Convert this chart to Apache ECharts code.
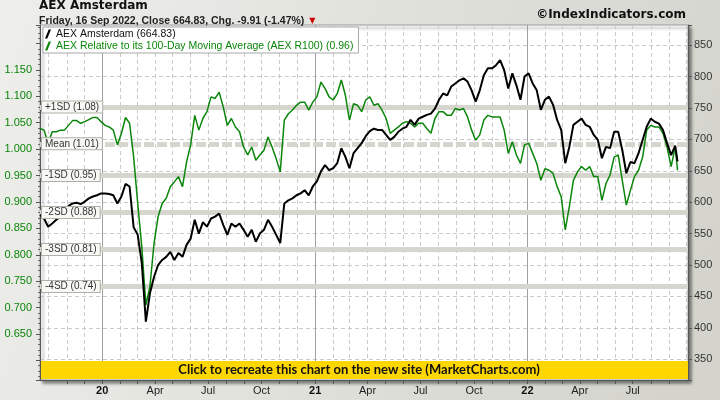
<!DOCTYPE html>
<html><head><meta charset="utf-8">
<script src="https://cdn.jsdelivr.net/npm/echarts@6/dist/echarts.min.js"></script>
<style>html,body{margin:0;padding:0;background:#fff}#c{width:720px;height:400px}</style>
</head><body><div id="c"></div>
<script>
// ---- data (weekly samples, last value = 16 Sep 2022 close) ----
const aexClose = [
580,574,561,566,572,577,582,594,598,599,
597,601,606,609,611,614,614,613,611,598,
609,629,625,560,548,503,410,455,481,500,
508,513,521,508,519,513,532,542,572,550,
568,561,574,577,582,564,548,566,561,566,
556,545,556,537,550,556,572,561,548,535,
598,603,606,611,614,619,611,625,633,649,
659,651,654,662,686,672,654,678,686,694,
705,713,717,715,715,707,699,704,712,717,
720,731,723,733,736,739,741,749,763,773,
770,784,789,794,797,792,778,760,778,802,
813,813,818,826,810,781,805,786,763,800,
805,789,778,747,763,768,755,731,715,662,
688,723,728,733,723,720,707,699,670,688,
686,712,712,683,646,664,662,678,699,720,
733,728,725,715,694,675,690,
664.83];
const aexR100 = [
1.039,1.036,1.011,1.033,1.033,1.036,1.036,1.045,1.054,1.054,
1.049,1.052,1.056,1.060,1.060,1.052,1.045,1.042,1.036,1.008,
1.030,1.060,1.049,0.985,0.897,0.815,0.705,0.740,0.821,0.872,
0.897,0.907,0.929,0.938,0.948,0.929,0.976,1.008,1.064,1.036,
1.058,1.071,1.099,1.096,1.108,1.080,1.045,1.058,1.042,1.033,
1.004,0.989,1.004,0.979,0.989,0.998,1.023,1.004,0.982,0.957,
1.055,1.067,1.074,1.083,1.089,1.089,1.074,1.089,1.099,1.127,
1.115,1.099,1.093,1.105,1.131,1.102,1.055,1.086,1.083,1.071,
1.093,1.099,1.083,1.086,1.074,1.058,1.030,1.036,1.042,1.049,
1.052,1.049,1.042,1.049,1.049,1.039,1.030,1.058,1.071,1.071,
1.064,1.064,1.077,1.074,1.077,1.061,1.036,1.017,1.027,1.055,
1.064,1.061,1.061,1.061,1.036,0.992,1.014,0.989,0.973,1.008,
1.011,0.992,0.973,0.941,0.963,0.960,0.954,0.929,0.910,0.847,
0.891,0.941,0.957,0.967,0.960,0.967,0.948,0.948,0.903,0.935,
0.951,0.985,0.989,0.941,0.894,0.922,0.948,0.960,0.985,1.036,
1.045,1.042,1.042,1.030,1.004,0.967,1.004,
0.96];
const bandValues = [1.083, 1.0145, 0.946, 0.877, 0.809, 0.740];
const bandLabels = ['+1SD (1.08)', 'Mean (1.01)', '-1SD (0.95)', '-2SD (0.88)', '-3SD (0.81)', '-4SD (0.74)'];
const yearStarts = [[2020, 0, 1], [2021, 0, 1], [2022, 0, 1]];
const monthNames = ['Jan','Feb','Mar','Apr','May','Jun','Jul','Aug','Sep','Oct','Nov','Dec'];
const closeName = 'AEX Amsterdam (664.83)';
const r100Name = 'AEX Relative to its 100-Day Moving Average (AEX R100) (0.96)';

// weekly dates from 16 Sep 2019, last point 16 Sep 2022
const dates = [];
for (let k = 0; k < aexClose.length - 1; k++) dates.push(new Date(2019, 8, 16 + 7 * k).getTime());
dates.push(new Date(2022, 8, 16).getTime());
const xMin = new Date(2019, 8, 16).getTime();
const xMax = new Date(2022, 9, 4).getTime();
const monthTicks = [];
for (let y = 2019; y <= 2022; y++) for (let m = 0; m < 12; m++) {
  const t = new Date(y, m, 1).getTime();
  if (t > xMin && t < xMax) monthTicks.push(t);
}
const quarterTicks = monthTicks.filter(t => new Date(t).getMonth() % 3 === 0);

const closeData = dates.map((d, i) => [d, aexClose[i]]);
const r100Data = dates.map((d, i) => [d, aexR100[i]]);

const GREEN = '#0a860a';
const bandLine = bandValues.map((v, i) => ({
  yAxis: v, name: bandLabels[i],
  lineStyle: {color: '#d6d6ce', width: 5, type: i === 1 ? [10, 3] : 'solid'}
}));
const bandLabelData = bandValues.map((v, i) => ({yAxis: v, name: bandLabels[i]}));

const chart = echarts.init(document.getElementById('c'), null, {renderer: 'canvas'});
chart.setOption({
  animation: false,
  backgroundColor: {type: 'linear', x: 0, y: 0, x2: 1, y2: 0.6,
    colorStops: [{offset: 0, color: '#eeeeeb'}, {offset: 1, color: '#d4d4cd'}]},
  textStyle: {fontFamily: 'Liberation Sans'},
  title: [
    {text: 'AEX Amsterdam', left: 39, top: 0, padding: 0,
     textStyle: {fontFamily: 'DejaVu Sans', fontWeight: 'bold', fontSize: 12, color: '#111'}},
    {text: '{a|Friday, 16 Sep 2022, Close 664.83, Chg. -9.91 (-1.47%)} {t|▼}', left: 39, top: 12, padding: 0,
     textStyle: {rich: {a: {fontFamily: 'Liberation Sans', fontSize: 10.5, color: '#222'},
                        t: {fontFamily: 'DejaVu Sans', fontSize: 8, color: '#d00000'}}}},
    {text: '©IndexIndicators.com', right: 34, top: 9, padding: 0,
     textStyle: {fontFamily: 'DejaVu Sans', fontWeight: 'bold', fontSize: 12, color: '#111'}}
  ],
  legend: {
    orient: 'vertical', left: 43, top: 27, padding: [1, 5, 1, 2], itemGap: 0,
    itemWidth: 6, itemHeight: 10, selectedMode: false,
    backgroundColor: '#fff', borderColor: '#a8a8a8', borderWidth: 1,
    icon: 'path://M4,0 L6.5,0 L2.5,10 L0,10 Z',
    textStyle: {fontSize: 10.5, lineHeight: 12, fontFamily: 'Liberation Sans'},
    data: [{name: closeName, textStyle: {color: '#111'}},
           {name: r100Name, textStyle: {color: GREEN}}]
  },
  grid: {left: 40, right: 32, top: 25, bottom: 20, show: true, backgroundColor: '#fff',
         borderColor: '#9a9a9a', borderWidth: 1,
         shadowColor: 'rgba(0,0,0,0.45)', shadowBlur: 3, shadowOffsetX: 3, shadowOffsetY: 3},
  xAxis: {
    type: 'value', min: xMin, max: xMax,
    axisLine: {lineStyle: {color: '#555'}},
    axisTick: {show: true, customValues: monthTicks, length: 4, lineStyle: {color: '#555'}},
    axisLabel: {customValues: quarterTicks, color: '#222', fontSize: 11, margin: 5, hideOverlap: false,
      showMinLabel: false, showMaxLabel: false,
      formatter: function (v) {
        const d = new Date(v);
        if (d.getMonth() === 0) return '{y|' + String(d.getFullYear()).slice(2) + '}';
        return monthNames[d.getMonth()];
      },
      rich: {y: {fontWeight: 'bold', fontSize: 11, color: '#111', fontFamily: 'Liberation Sans'}}},
    splitLine: {show: true, lineStyle: {color: '#cacaca', type: [4, 3]}}
  },
  yAxis: [
    {type: 'value', position: 'left', min: 0.563, max: 1.235, minInterval: 0.05, maxInterval: 0.05,
     axisLine: {show: true, lineStyle: {color: '#555'}},
     axisTick: {show: true, length: 4, lineStyle: {color: '#555'}},
     minorTick: {show: true, splitNumber: 5, length: 2, lineStyle: {color: '#666'}},
     splitLine: {show: false},
     axisLabel: {color: GREEN, fontSize: 11, margin: 8, showMinLabel: false, showMaxLabel: false,
       formatter: v => (v < 0.64 || v > 1.16) ? '' : v.toFixed(3)}},
    {type: 'value', position: 'right', min: 317, max: 882, minInterval: 50, maxInterval: 50,
     axisLine: {show: true, lineStyle: {color: '#555'}},
     axisTick: {show: true, length: 4, lineStyle: {color: '#555'}},
     minorTick: {show: true, splitNumber: 5, length: 2, lineStyle: {color: '#666'}},
     splitLine: {show: true, lineStyle: {color: '#cacaca', type: [4, 3]}},
     axisLabel: {color: '#333', fontSize: 11, margin: 6, showMinLabel: false, showMaxLabel: false}}
  ],
  series: [
    {type: 'line', data: [], yAxisIndex: 0, z: 1, silent: true,
     markLine: {z: 1, symbol: 'none', silent: true, animation: false, label: {show: false},
       data: yearStarts.map(s => ({xAxis: new Date(s[0], s[1], s[2]).getTime(),
         lineStyle: {color: '#a0a0a0', width: 1, type: 'solid'}}))}},
    {type: 'line', data: [], yAxisIndex: 0, z: 1, silent: true,
     markLine: {z: 1, symbol: 'none', silent: true, animation: false, label: {show: false}, data: bandLine}},
    {name: r100Name, type: 'line', yAxisIndex: 0, data: r100Data, showSymbol: false, z: 3,
     lineStyle: {color: GREEN, width: 1.5}, itemStyle: {color: GREEN}},
    {name: closeName, type: 'line', yAxisIndex: 1, data: closeData, showSymbol: false, z: 4,
     lineStyle: {color: '#000', width: 2}, itemStyle: {color: '#000'}},
    {type: 'line', data: [], yAxisIndex: 0, z: 6, silent: true,
     markLine: {z: 6, symbol: 'none', silent: true, animation: false,
       lineStyle: {color: 'rgba(0,0,0,0)', width: 0},
       label: {show: true, position: 'insideStart', distance: 2, formatter: '{b}',
         color: '#333', fontSize: 10, fontFamily: 'Liberation Sans',
         backgroundColor: '#f8f8f5', borderColor: '#b0b0a8', borderWidth: 1, padding: [1, 3, 0, 3]},
       data: bandLabelData}}
  ],
  graphic: [
    {type: 'rect', x: 41, y: 361, z: 50, shape: {width: 647, height: 18}, style: {fill: '#FFD700'}},
    {type: 'text', x: 359, y: 370, z: 51,
     style: {text: 'Click to recreate this chart on the new site (MarketCharts.com)',
       textAlign: 'center', textVerticalAlign: 'middle', font: 'bold 13px Lato', fill: '#111'}}
  ]
});
</script></body></html>
